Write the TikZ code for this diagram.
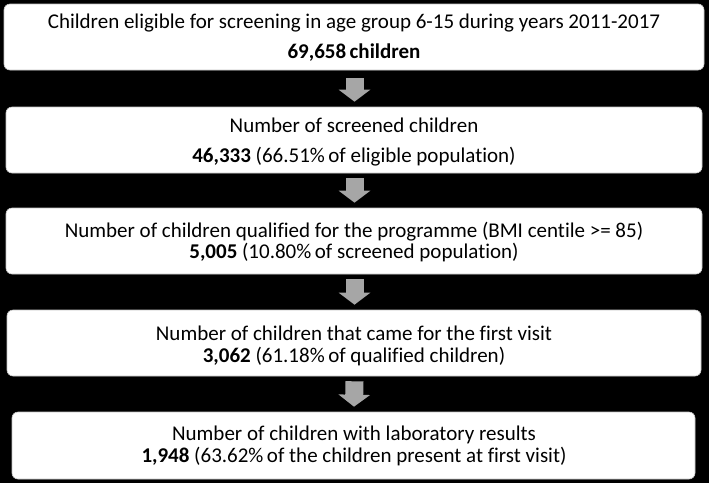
\documentclass[tikz,border=0pt]{standalone}
\usepackage{fontspec}
\setmainfont{Carlito}[Ligatures=NoCommon]
\usetikzlibrary{calc,arrows.meta}
\definecolor{arrgray}{RGB}{166,166,166}
\tikzset{
  box/.style={draw=gray!45, line width=0.6pt, fill=white, rounded corners=6pt, inner sep=0pt, minimum height=66pt},
  txt/.style={font=\fontsize{21}{24}\selectfont, inner sep=0pt, anchor=base},
  arr/.style={draw=arrgray, line width=18pt, -{Triangle[width=31pt,length=12pt]}}
}
\begin{document}
\begin{tikzpicture}[x=1pt,y=-1pt]
\fill[black] (0,0) rectangle (709,483);
\useasboundingbox (0,0) rectangle (709,483);
\node[box, minimum width=700pt] (b1) at (354,37) {};
\node[box, minimum width=696pt] (b2) at (354,140) {};
\node[box, minimum width=696pt] (b3) at (354,241) {};
\node[box, minimum width=694pt] (b4) at (354,343) {};
\node[box, minimum width=683pt, minimum height=67pt] (b5) at (353.5,445.5) {};
\node[txt] (t1a) at (354,28.5) {Children eligible for screening in age group 6-15 during years 2011-2017};
\node[txt] (t1b) at (354,58) {\textbf{69,658}\,\textbf{children}};
\node[txt] (t2a) at (354,132) {Number of screened children};
\node[txt] (t2b) at (354,162) {\textbf{46,333} (66.51\%\,of eligible population)};
\node[txt] (t3a) at (354,237) {Number of children qualified for the programme (BMI centile >= 85)};
\node[txt] (t3b) at (354,258) {\textbf{5,005} (10.80\%\,of screened population)};
\node[txt] (t4a) at (354,340.5) {Number of children that came for the first visit};
\node[txt] (t4b) at (354,362) {\textbf{3,062} (61.18\%\,of qualified children)};
\node[txt] (t5a) at (354,440.5) {Number of children with laboratory results};
\node[txt] (t5b) at (354,462.5) {\textbf{1,948} (63.62\%\,of the children present at first visit)};
\draw[arr] ($(b1.south)+(0.5,8)$) -- ($(b2.north)+(0.5,-5)$);
\draw[arr] ($(b2.south)+(0.5,5)$) -- ($(b3.north)+(0.5,-5)$);
\draw[arr] ($(b3.south)+(0.5,5)$) -- ($(b4.north)+(0.5,-5)$);
\draw[arr] ($(b4.south)+(0.5,5)$) -- ($(b5.north)+(0.5,-5)$);
\end{tikzpicture}
\end{document}
